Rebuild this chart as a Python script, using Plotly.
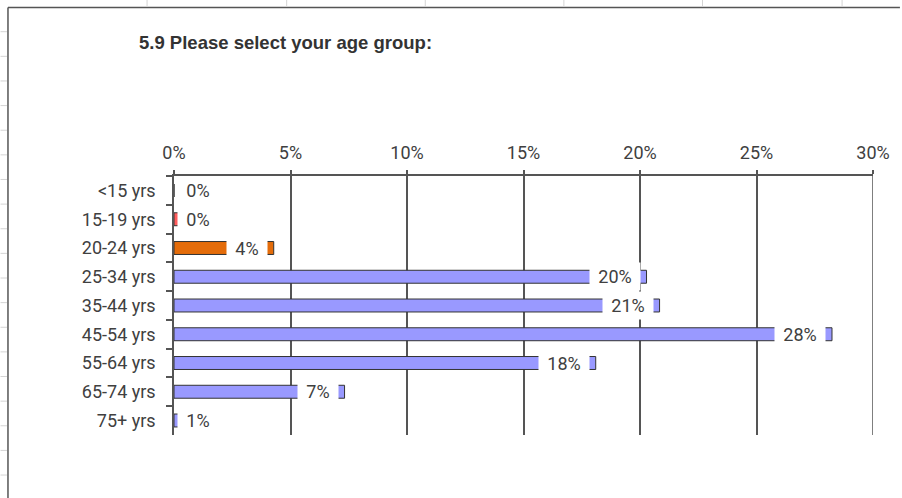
import plotly.graph_objects as go

# data (share of respondents, %)
age_groups = ['<15 yrs', '15-19 yrs', '20-24 yrs', '25-34 yrs', '35-44 yrs',
              '45-54 yrs', '55-64 yrs', '65-74 yrs', '75+ yrs']
shares = [0.0, 0.3, 4.28, 20.28, 20.84, 28.24, 18.1, 7.32, 0.8]
bar_colors = ['#9999FF', '#FF5C5C', '#E46C0A', '#9999FF', '#9999FF',
              '#9999FF', '#9999FF', '#9999FF', '#9999FF']
tick_vals = [0, 5, 10, 15, 20, 25, 30]
tick_text = ['0%', '5%', '10%', '15%', '20%', '25%', '30%']

W, H = 902, 498
L, R, T, B = 174, 27, 176, 63
pw, ph = W - L - R, H - T - B
ppu = pw / 30  # pixels per percent

def px(x):
    return (x - L) / pw

def py(y):
    return (H - B - y) / ph

fig = go.Figure()
fig.add_trace(go.Bar(
    y=age_groups, x=shares, orientation='h',
    marker=dict(color=bar_colors, line=dict(color='#333333', width=1)),
    hoverinfo='skip', showlegend=False,
))

# data labels sitting over the bar ends on a white box (Excel style)
annotations = []
for cat, v in zip(age_groups, shares):
    label = f"{round(v)}%"
    bw = 10 * len(label) + 16
    right = v * ppu - 6
    if right - (bw + 4) < 3:
        pos = dict(x=0, xanchor='left', xshift=3)
    else:
        pos = dict(x=v, xanchor='right', xshift=-6)
    annotations.append(dict(
        y=cat, xref='x', yref='y', text=label, showarrow=False,
        bgcolor='white', width=bw, height=23, borderpad=2, align='center',
        font=dict(family='Roboto', size=18, color='#404040'), **pos))

annotations.append(dict(
    x=px(137), y=py(43), xref='paper', yref='paper', xanchor='left', yanchor='middle',
    text='<b>5.9 Please select your age group:</b>', showarrow=False,
    font=dict(family='Liberation Sans, Arial, sans-serif', size=18.5, color='#333333')))

# worksheet frame and faint cell lines around the chart object
shapes = [
    dict(type='line', xref='paper', yref='paper', x0=px(7.5), x1=px(W), y0=py(7.5), y1=py(7.5),
         line=dict(color='#555555', width=1.5)),
    dict(type='line', xref='paper', yref='paper', x0=px(7.5), x1=px(7.5), y0=py(7.5), y1=py(H),
         line=dict(color='#555555', width=1.5)),
    # gridline at the right end of the range
    dict(type='line', xref='x', yref='paper', x0=30, x1=30, y0=0, y1=1,
         line=dict(color='#555555', width=1.5), layer='below'),
]
for cx in [147, 287, 426, 565, 704, 844]:
    shapes.append(dict(type='line', xref='paper', yref='paper', x0=px(cx), x1=px(cx),
                       y0=py(0), y1=py(6.5), line=dict(color='#d4d4d4', width=1)))
for i in range(19):
    ry = 31.7 + i * 24.63
    shapes.append(dict(type='line', xref='paper', yref='paper', x0=px(0), x1=px(6.5),
                       y0=py(ry), y1=py(ry), line=dict(color='#d4d4d4', width=1)))

fig.update_layout(
    width=W, height=H,
    margin=dict(l=L, r=R, t=T, b=B),
    paper_bgcolor='white', plot_bgcolor='white',
    bargap=0.55,
    annotations=annotations, shapes=shapes,
    xaxis=dict(
        range=[0, 30], side='top', tickvals=tick_vals, ticktext=tick_text,
        showgrid=True, gridcolor='#555555', gridwidth=1.5, zeroline=False,
        showline=True, linecolor='#555555', linewidth=1.5,
        ticks='outside', ticklen=4, tickcolor='#555555', tickwidth=1.5,
        ticklabelstandoff=4,
        tickfont=dict(family='Roboto', size=18, color='#404040'),
    ),
    yaxis=dict(
        autorange='reversed', showgrid=False, zeroline=False,
        showline=True, linecolor='#555555', linewidth=1.5,
        ticks='outside', ticklen=6, tickcolor='#555555', tickwidth=1.5,
        tickson='boundaries', ticklabelstandoff=13,
        tickfont=dict(family='Roboto', size=18, color='#404040'),
    ),
)

fig.write_html("out.html", config={'displayModeBar': False},
               post_script="document.body.style.margin='0';")
